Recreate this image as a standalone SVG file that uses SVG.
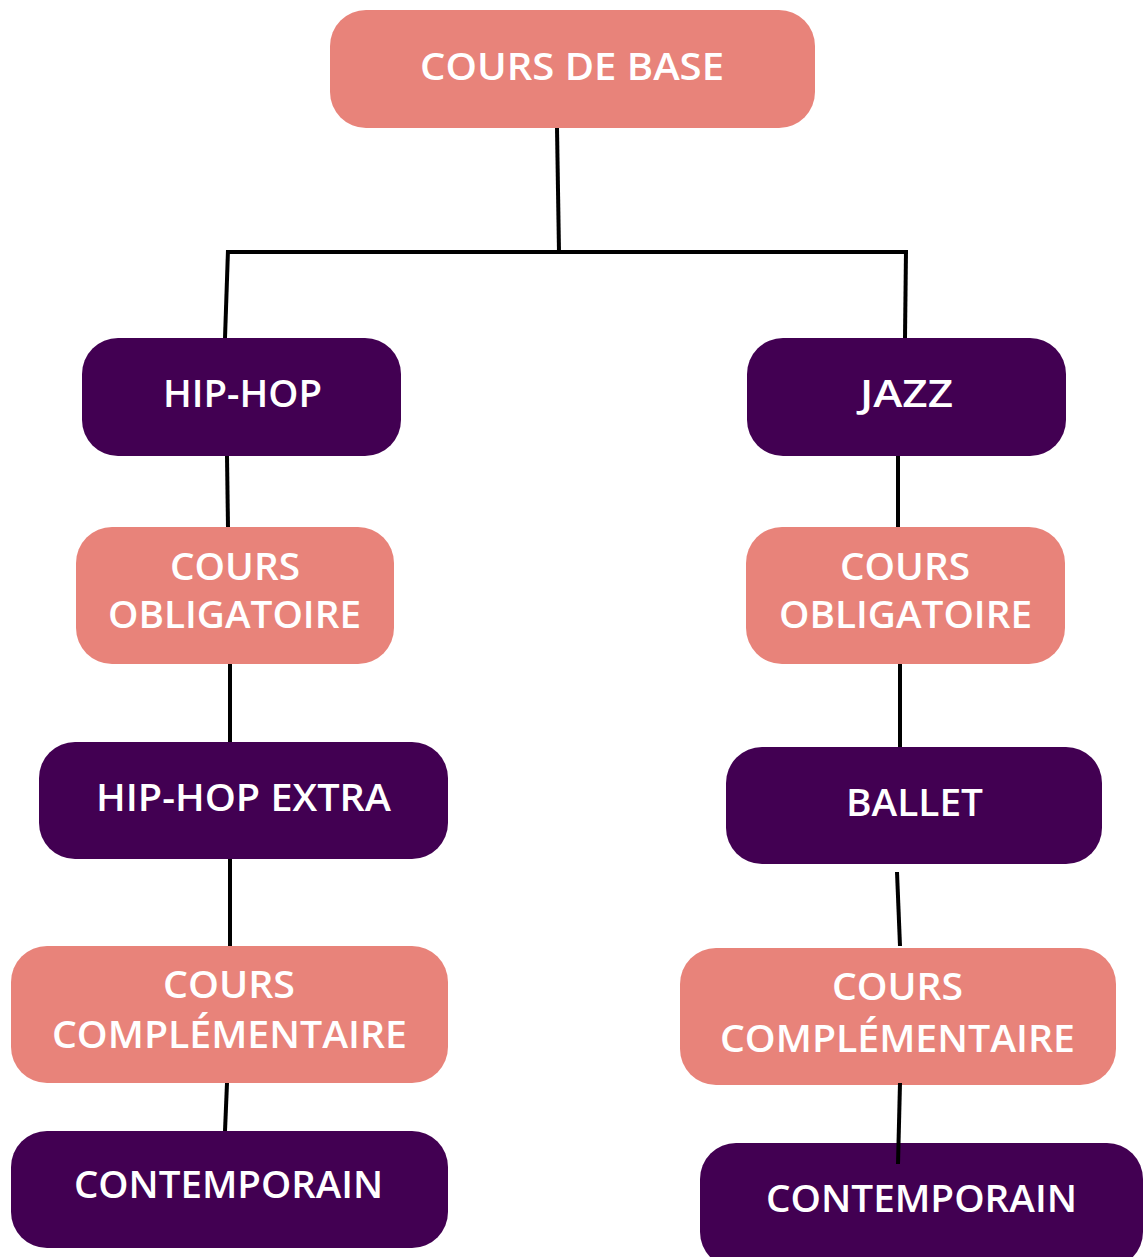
<svg xmlns="http://www.w3.org/2000/svg" width="1144" height="1257" viewBox="0 0 1144 1257">
<style>
.s{fill:#E8837A}
.p{fill:#420052}
.t{fill:#ffffff;font-family:"Open Sans","DejaVu Sans",sans-serif;font-weight:600;font-size:37px;text-anchor:middle}
.c{stroke:#000;stroke-width:4;fill:none;stroke-linecap:butt}
</style>
<rect width="1144" height="1257" fill="#ffffff"/>
<g id="n1"><rect class="s" x="330" y="10" width="485" height="118" rx="36"/><text class="t" x="572" y="80" textLength="304" lengthAdjust="spacingAndGlyphs">COURS DE BASE</text></g>
<g id="n2"><rect class="p" x="82" y="338" width="319" height="118" rx="36"/><text class="t" x="242.5" y="407" textLength="159" lengthAdjust="spacingAndGlyphs">HIP-HOP</text></g>
<g id="n3"><rect class="p" x="747" y="338" width="319" height="118" rx="36"/><text class="t" x="906.5" y="407" textLength="93" lengthAdjust="spacingAndGlyphs">JAZZ</text></g>
<g id="n4"><rect class="s" x="76" y="527" width="318" height="137" rx="36"/><text class="t" x="235" y="580" textLength="130" lengthAdjust="spacingAndGlyphs">COURS</text><text class="t" x="234.5" y="628" textLength="253" lengthAdjust="spacingAndGlyphs">OBLIGATOIRE</text></g>
<g id="n5"><rect class="s" x="746" y="527" width="319" height="137" rx="36"/><text class="t" x="905" y="580" textLength="130" lengthAdjust="spacingAndGlyphs">COURS</text><text class="t" x="905.5" y="628" textLength="253" lengthAdjust="spacingAndGlyphs">OBLIGATOIRE</text></g>
<g id="n6"><rect class="p" x="39" y="742" width="409" height="117" rx="36"/><text class="t" x="243.5" y="811" textLength="295" lengthAdjust="spacingAndGlyphs">HIP-HOP EXTRA</text></g>
<g id="n7"><rect class="p" x="726" y="747" width="376" height="117" rx="36"/><text class="t" x="914.5" y="816" textLength="137" lengthAdjust="spacingAndGlyphs">BALLET</text></g>
<g id="n8"><rect class="s" x="11" y="946" width="437" height="137" rx="36"/><text class="t" x="229" y="998" textLength="132" lengthAdjust="spacingAndGlyphs">COURS</text><text class="t" x="229.5" y="1048" textLength="355" lengthAdjust="spacingAndGlyphs">COMPLÉMENTAIRE</text></g>
<g id="n9"><rect class="s" x="680" y="948" width="436" height="137" rx="36"/><text class="t" x="897.5" y="1000" textLength="131" lengthAdjust="spacingAndGlyphs">COURS</text><text class="t" x="897.5" y="1052" textLength="355" lengthAdjust="spacingAndGlyphs">COMPLÉMENTAIRE</text></g>
<g id="n10"><rect class="p" x="11" y="1131" width="437" height="117" rx="36"/><text class="t" x="228.5" y="1198" textLength="309" lengthAdjust="spacingAndGlyphs">CONTEMPORAIN</text></g>
<g id="n11"><rect class="p" x="700" y="1143" width="443" height="125" rx="36"/><text class="t" x="921.5" y="1212" textLength="311" lengthAdjust="spacingAndGlyphs">CONTEMPORAIN</text></g>
<g id="connectors">
<line class="c" x1="557" y1="128" x2="559" y2="252"/>
<line class="c" x1="226" y1="252" x2="908" y2="252"/>
<line class="c" x1="228" y1="250" x2="225" y2="338"/>
<line class="c" x1="906" y1="250" x2="905" y2="338"/>
<line class="c" x1="227" y1="456" x2="228" y2="527"/>
<line class="c" x1="230" y1="664" x2="230" y2="742"/>
<line class="c" x1="230" y1="859" x2="230" y2="946"/>
<line class="c" x1="227" y1="1083" x2="225" y2="1131"/>
<line class="c" x1="898" y1="456" x2="898" y2="527"/>
<line class="c" x1="900" y1="664" x2="900" y2="747"/>
<line class="c" x1="897" y1="872" x2="900" y2="946"/>
<line class="c" x1="900" y1="1083" x2="898" y2="1164"/>
</g>
</svg>
